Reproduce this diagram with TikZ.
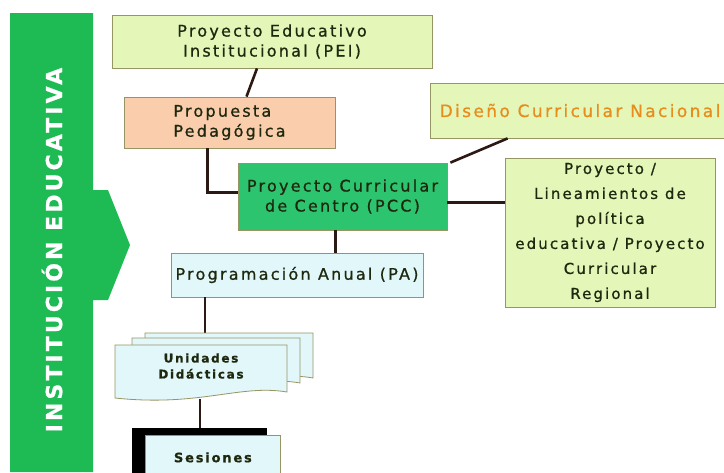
\documentclass[tikz,border=0pt]{standalone}
\usepackage{fontspec}
\setmainfont{DejaVu Sans}[LetterSpace=14, FakeBold=0.8]
\usetikzlibrary{positioning}

\definecolor{barGreen}{RGB}{30,187,84}
\definecolor{pccGreen}{RGB}{44,196,110}
\definecolor{lightGreen}{RGB}{228,246,184}
\definecolor{peach}{RGB}{250,206,172}
\definecolor{lightCyan}{RGB}{226,247,250}
\definecolor{boxLine}{RGB}{150,150,100}
\definecolor{inkDark}{RGB}{30,40,15}
\definecolor{linkBrown}{RGB}{45,25,20}
\definecolor{orangeText}{RGB}{232,140,30}

\tikzset{
  box/.style={draw=boxLine, line width=0.8pt, inner sep=2pt, text=inkDark,
    align=center, font=\fontsize{16}{20}\selectfont},
  sheet/.style={draw=boxLine, line width=0.8pt, fill=lightCyan},
  link/.style={draw=linkBrown, line width=2.6pt},
}

\begin{document}
\begin{tikzpicture}[x=1pt,y=-1pt]
    \useasboundingbox (0,0) rectangle (724,472);
    \fill[white] (0,0) rectangle (724,472);

    % Green side bar with its arrow
    \fill[barGreen] (10,13) -- (93,13) -- (93,190) -- (108,190) -- (130,245)
        -- (108,300) -- (93,300) -- (93,472) -- (10,472) -- cycle;
    \node[rotate=90, text=white, font=\bfseries\fontsize{22}{22}\selectfont] (inst) at (52,250) {INSTITUCIÓN EDUCATIVA};

    % Boxes
    \node[box, fill=lightGreen, minimum width=320pt, minimum height=53pt] (pei) at (272,41.5) {Proyecto Educativo\\Institucional (PEI)};
    \node[box, fill=peach, minimum width=211pt, minimum height=51pt, align=left] (prop) at (229.5,122.5) {Propuesta\\Pedagógica};
    \node[box, fill=lightGreen, minimum width=300pt, minimum height=55pt, text=orangeText, font=\fontsize{17}{20}\selectfont] (dcn) at (580,110.5) {Diseño Curricular Nacional};
    \node[box, fill=lightGreen, minimum width=210pt, minimum height=149pt, font=\fontsize{15}{25}\selectfont] (lin) at (610,232.5) {Proyecto /\\Lineamientos de\\política\\educativa / Proyecto\\Curricular\\Regional};
    \node[box, fill=pccGreen, minimum width=209pt, minimum height=67pt] (pcc) at (342.5,196.5) {Proyecto Curricular\\de Centro (PCC)};
    \node[box, fill=lightCyan, minimum width=252pt, minimum height=44pt] (pa) at (297,275) {Programación Anual (PA)};

    % Stacked sheets for the units
    \coordinate (sheettop) at (205,333);
    \coordinate (sheetbottom) at (200,399);
    \draw[link] ([xshift=-92pt]pa.south) -- (sheettop);
    \foreach \dx/\dy in {30/12, 17/7}
        \draw[sheet, shift={(\dx,-\dy)}] (115,345) -- (283,345) -- (283,390)
            .. controls (240,382) and (200,405) .. (115,396) -- cycle;
    \draw[sheet] (115,345) -- (287,345) -- (287,392)
        .. controls (240,384) and (200,407) .. (115,398) -- cycle;
    \node[align=center, font=\bfseries\fontsize{12}{16}\selectfont, text=inkDark] (unid) at (201,366) {Unidades\\Didácticas};

    % Sessions with a black shadow
    \coordinate (sestop) at (200,428);
    \fill[black] (132,428) rectangle (267,480);
    \node[box, fill=lightCyan, minimum width=135pt, minimum height=44pt, anchor=north west, font=\bfseries\fontsize{13}{14}\selectfont] (ses) at (145,435) {Sesiones};
    \draw[link] (sheetbottom) -- (sestop);

    % Connectors
    \draw[link] ([xshift=-15pt]pei.south) -- ([xshift=17pt]prop.north);
    \draw[link] ([xshift=-22pt]prop.south) |- ([yshift=4pt]pcc.west);
    \draw[link] ([xshift=3pt]pcc.north east) -- ([xshift=78pt]dcn.south west);
    \draw[link] ([yshift=-6pt]pcc.east) -- ([yshift=-6pt]pcc.east -| lin.west);
    \draw[link] ([xshift=-7pt]pcc.south) -- ([xshift=-7pt]pcc.south |- pa.north);
\end{tikzpicture}
\end{document}
